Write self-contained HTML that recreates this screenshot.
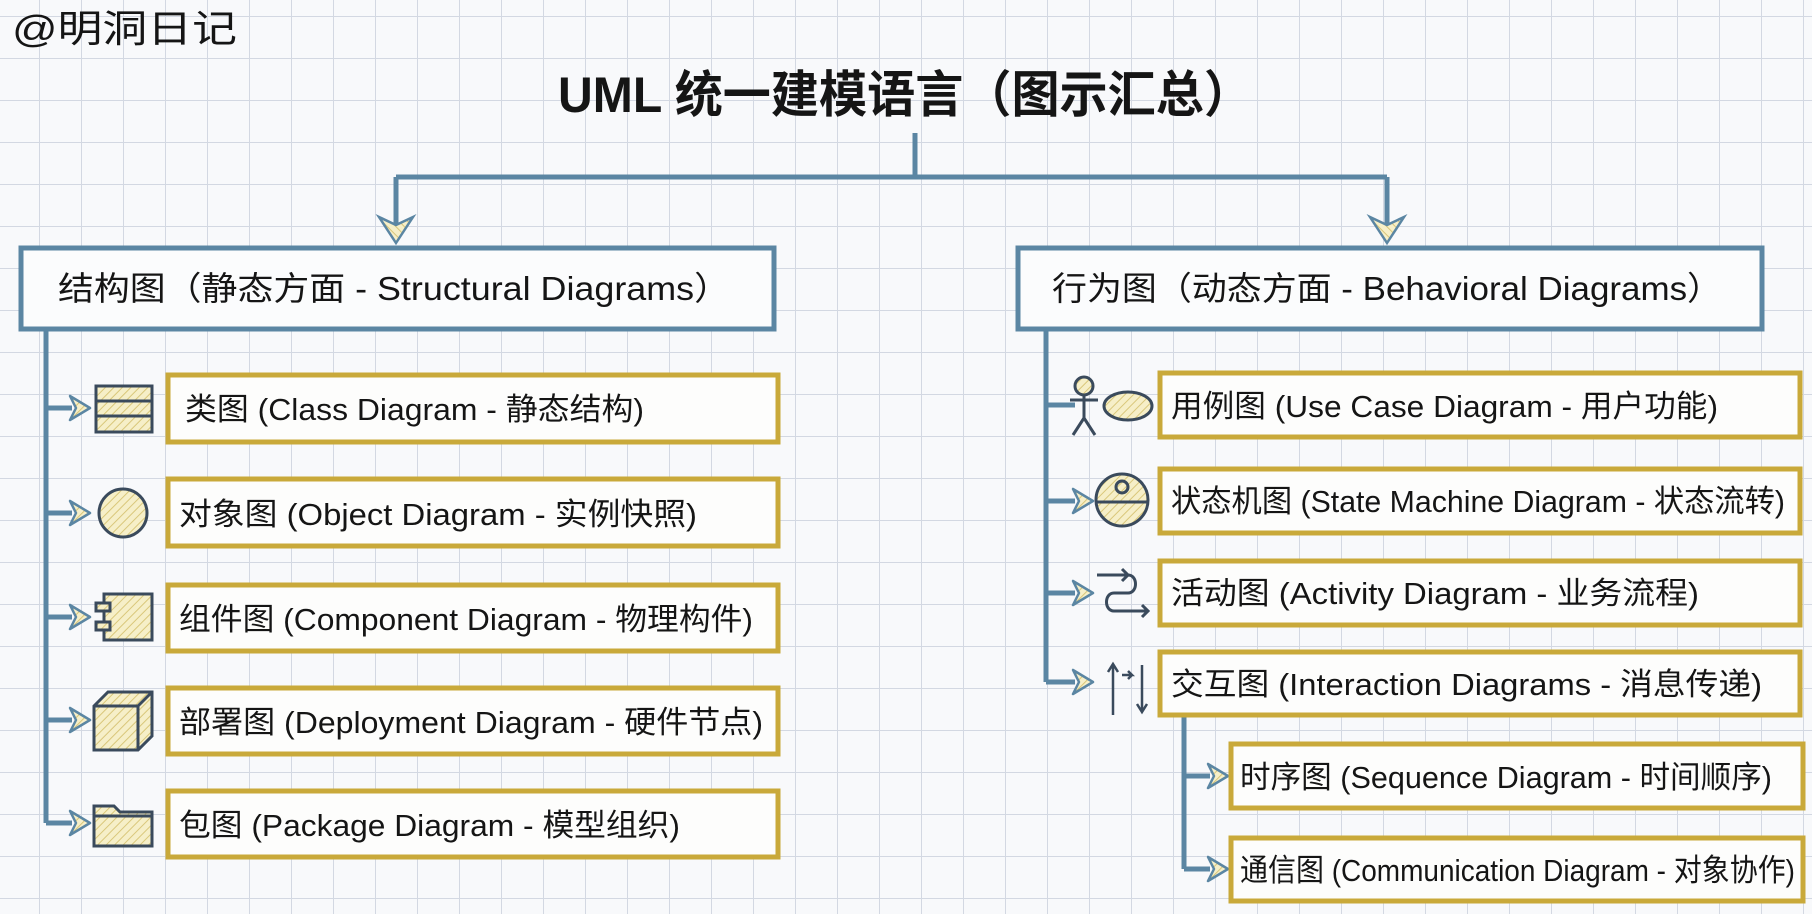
<!DOCTYPE html>
<html><head><meta charset="utf-8"><style>
html,body{margin:0;padding:0;width:1812px;height:914px;overflow:hidden;background:#f8f9fb}
svg{display:block}
text{font-family:"Liberation Sans","Noto Sans CJK SC",sans-serif;fill:#151515}
</style></head><body>
<svg width="1812" height="914" viewBox="0 0 1812 914" xmlns="http://www.w3.org/2000/svg">
<defs>
<pattern id="grid" x="-2" y="17" width="42" height="42" patternUnits="userSpaceOnUse">
<path d="M42 0V42M0 42H42" stroke="#d3d8e2" stroke-width="2" fill="none"/>
</pattern>
<pattern id="hatch" width="6" height="6" patternUnits="userSpaceOnUse" patternTransform="rotate(45)">
<rect width="6" height="6" fill="#f6efc8"/><line x1="0" y1="0" x2="0" y2="6" stroke="#d9c77a" stroke-width="2"/>
</pattern>
<g id="arr"><path d="M0 0 L-20 -12 L-14 0 L-20 12 Z" fill="url(#hatch)" stroke="#5b86a3" stroke-width="2.5" stroke-linejoin="round"/></g>
</defs>
<rect width="1812" height="914" fill="url(#grid)"/>
<text x="12" y="42" font-size="38" textLength="225" lengthAdjust="spacingAndGlyphs">@明洞日记</text>
<text x="558" y="112" font-size="50" font-weight="bold" textLength="694" lengthAdjust="spacingAndGlyphs">UML 统一建模语言（图示汇总）</text>
<g stroke="#5b86a3" stroke-width="5" fill="none">
<path d="M915 133V177M396 177H1387M396 177V228M1387 177V228"/>
<path d="M46 329V823M1046 329V682M1184 716V869"/>
<path d="M46 408H72M46 513H72M46 617H72M46 720H72M46 823H72"/>
<path d="M1046 405H1075M1046 501H1075M1046 593H1075M1046 682H1075M1184 776H1210M1184 869H1210"/>
</g>
<g transform="translate(396,243) rotate(90)"><path d="M0 0 L-26 -17 L-18 0 L-26 17 Z" fill="url(#hatch)" stroke="#5b86a3" stroke-width="2.5"/></g>
<g transform="translate(1387,243) rotate(90)"><path d="M0 0 L-26 -17 L-18 0 L-26 17 Z" fill="url(#hatch)" stroke="#5b86a3" stroke-width="2.5"/></g>
<use href="#arr" x="90" y="408"/><use href="#arr" x="90" y="513"/><use href="#arr" x="90" y="617"/><use href="#arr" x="90" y="720"/><use href="#arr" x="90" y="823"/>
<use href="#arr" x="1093" y="501"/><use href="#arr" x="1093" y="593"/><use href="#arr" x="1093" y="682"/>
<use href="#arr" x="1228" y="776"/><use href="#arr" x="1228" y="869"/>
<g fill="#fbfcfd" stroke="#5b86a3" stroke-width="5">
<rect x="21" y="248" width="753" height="81"/>
<rect x="1018" y="248" width="744" height="81"/>
</g>
<text x="58" y="300" font-size="33" textLength="672" lengthAdjust="spacingAndGlyphs">结构图（静态方面 - Structural Diagrams）</text>
<text x="1052" y="300" font-size="33" textLength="670" lengthAdjust="spacingAndGlyphs">行为图（动态方面 - Behavioral Diagrams）</text>
<g fill="#fdfdfc" stroke="#c9a93a" stroke-width="5">
<rect x="168" y="375" width="610" height="67"/>
<rect x="168" y="479" width="610" height="67"/>
<rect x="168" y="585" width="610" height="66"/>
<rect x="168" y="688" width="610" height="66"/>
<rect x="168" y="791" width="610" height="66"/>
<rect x="1160" y="373" width="640" height="64"/>
<rect x="1160" y="469" width="640" height="64"/>
<rect x="1160" y="561" width="640" height="64"/>
<rect x="1160" y="652" width="640" height="63"/>
<rect x="1231" y="744" width="572" height="64"/>
<rect x="1231" y="838" width="572" height="63"/>
</g>
<g font-size="31" lengthAdjust="spacingAndGlyphs">
<text x="185" y="420" textLength="459" lengthAdjust="spacingAndGlyphs">类图 (Class Diagram - 静态结构)</text>
<text x="179" y="525" textLength="518" lengthAdjust="spacingAndGlyphs">对象图 (Object Diagram - 实例快照)</text>
<text x="179" y="630" textLength="574" lengthAdjust="spacingAndGlyphs">组件图 (Component Diagram - 物理构件)</text>
<text x="179" y="733" textLength="584" lengthAdjust="spacingAndGlyphs">部署图 (Deployment Diagram - 硬件节点)</text>
<text x="179" y="836" textLength="501" lengthAdjust="spacingAndGlyphs">包图 (Package Diagram - 模型组织)</text>
<text x="1171" y="417" textLength="547" lengthAdjust="spacingAndGlyphs">用例图 (Use Case Diagram - 用户功能)</text>
<text x="1171" y="512" textLength="614" lengthAdjust="spacingAndGlyphs">状态机图 (State Machine Diagram - 状态流转)</text>
<text x="1171" y="604" textLength="528" lengthAdjust="spacingAndGlyphs">活动图 (Activity Diagram - 业务流程)</text>
<text x="1171" y="695" textLength="591" lengthAdjust="spacingAndGlyphs">交互图 (Interaction Diagrams - 消息传递)</text>
<text x="1240" y="788" textLength="532" lengthAdjust="spacingAndGlyphs">时序图 (Sequence Diagram - 时间顺序)</text>
<text x="1240" y="881" textLength="555" lengthAdjust="spacingAndGlyphs">通信图 (Communication Diagram - 对象协作)</text>
</g>
<g stroke="#3a4a5c" stroke-width="3" fill="url(#hatch)">
<rect x="96" y="386" width="56" height="46"/><path d="M96 401H152M96 416H152" fill="none"/>
<circle cx="123" cy="513" r="24"/>
<rect x="104" y="594" width="48" height="46"/><rect x="96" y="603" width="14" height="8"/><rect x="96" y="622" width="14" height="8"/>
<path d="M94 706 L108 692 H152 V736 L138 750 H94 Z"/><path d="M94 706H138V750M138 706L152 692" fill="none"/>
<path d="M94 806 H114 L120 812 H152 V846 H94 Z"/><path d="M94 816H152" fill="none"/>
</g>
<g stroke="#3a4a5c" stroke-width="3" fill="none">
<circle cx="1084" cy="386" r="9" fill="url(#hatch)"/><path d="M1084 395V418M1070 400H1098M1084 418L1073 435M1084 418L1095 435"/>
<ellipse cx="1128" cy="406" rx="24" ry="14" fill="url(#hatch)"/>
<circle cx="1122" cy="500" r="26" fill="url(#hatch)"/><path d="M1097 502H1147"/><circle cx="1122" cy="487" r="6"/>
<path d="M1097 575H1128c10 0 10 18 0 18h-14c-10 0-10 18 0 18H1148M1122 569l6 6-6 6M1142 605l6 6-6 6"/>
<path d="M1113 715V664M1108 672l5-8 5 8M1122 675h10l-4-4M1132 675l-4 4M1142 665V712M1137 704l5 8 5-8" stroke-width="2.5"/>
</g>
</svg>
</body></html>
